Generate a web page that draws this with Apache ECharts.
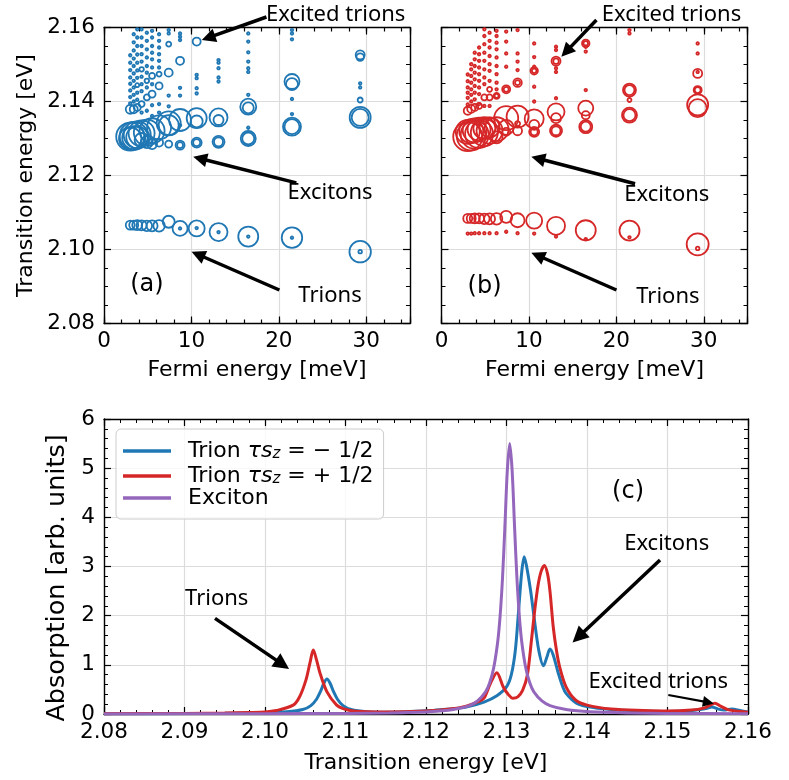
<!DOCTYPE html>
<html>
<head>
<meta charset="utf-8">
<script src="https://cdn.jsdelivr.net/npm/echarts@6.0.0/dist/echarts.min.js"></script>
<style>
  html, body { margin: 0; padding: 0; background: #fff; }
  #chart { width: 789px; height: 780px; }
</style>
</head>
<body>
<div id="chart"></div>
<script>
// --- data -----------------------------------------------------------------
// scatter points: [Fermi energy (meV), transition energy (eV), relative strength]
var trionsA = [[3.0,2.1066,.26],[3.4,2.1066,.26],[3.8,2.1066,.3],[4.3,2.1065,.3],[4.9,2.1064,.32],[5.5,2.1064,.34],[6.3,2.1064,.36],
  [7.4,2.1075,.38],[8.7,2.1057,.5],[10.6,2.1057,.54],[13.1,2.1047,.62],[16.5,2.1035,.7],[21.5,2.1032,.72],[29.3,2.0994,.76]];
var trionDotsA = [[8.7,2.1057],[10.6,2.1058],[13.1,2.1047],[16.5,2.1035],[21.5,2.1032],[29.3,2.0994,.04]];
var excitonsA = [[3.0,2.1305,1.02],[3.0,2.1300,.8],[3.4,2.1307,1.02],[3.4,2.1302,.82],[3.8,2.1310,.98],[3.8,2.1303,.78],
  [4.3,2.1314,.94],[4.3,2.1296,.46],[4.9,2.1316,.94],[4.9,2.1290,.38],[5.5,2.1321,.9],[5.5,2.1285,.3],
  [6.3,2.1330,.86],[6.3,2.1289,.22],[7.4,2.1341,.86],[7.4,2.1336,.7],[7.4,2.1285,.18],
  [8.7,2.1350,.78],[8.7,2.1282,.26],[8.7,2.1282,.14],[10.6,2.1355,.7],[10.6,2.1346,.38],[10.6,2.1289,.3],[10.6,2.1289,.18],
  [13.1,2.1357,.62],[13.1,2.1350,.3],[13.1,2.1291,.38],[13.1,2.1291,.26],[16.5,2.1386,.54],[16.5,2.1383,.34],[16.5,2.1300,.5],[16.5,2.1300,.38],
  [21.5,2.1332,.62],[21.5,2.1332,.5],[21.5,2.1454,.5],[21.5,2.1447,.38],
  [29.3,2.1357,.74],[29.3,2.1357,.58],[29.3,2.1526,.26],[29.3,2.1520,.2],[29.3,2.1404,.1]];
var excitedA = [[3.0,2.1379,.26],[3.4,2.1379,.22],[3.8,2.1384,.18],[4.3,2.1393,.14],[4.9,2.1411,.14],[5.5,2.1420,.18],[6.3,2.1442,.18],
  [7.4,2.1478,.22],[8.7,2.1510,.22],[10.6,2.1562,.22],[5.5,2.1469,.14],[6.3,2.1474,.1],[7.4,2.1555,.1],[4.3,2.1487,.08],[4.9,2.1456,.08],[3.8,2.1444,.06]];
var dotsA = [[3.0,2.1395],[3.0,2.1412],[3.0,2.1430],[3.0,2.1448],[3.0,2.1465],[3.0,2.1485],[3.0,2.1505],[3.0,2.1525],
  [3.4,2.1400],[3.4,2.1418],[3.4,2.1438],[3.4,2.1456],[3.4,2.1476],[3.4,2.1496],[3.4,2.1516],[3.4,2.1538],[3.4,2.1560],[3.4,2.1582],
  [3.8,2.1405],[3.8,2.1424],[3.8,2.1464],[3.8,2.1484],[3.8,2.1505],[3.8,2.1527],[3.8,2.1550],[3.8,2.1573],[3.8,2.1595],
  [4.3,2.1370],[4.3,2.1428],[4.3,2.1447],[4.3,2.1467],[4.3,2.1508],[4.3,2.1528],[4.3,2.1550],[4.3,2.1573],[4.3,2.1595],
  [4.9,2.1375],[4.9,2.1438],[4.9,2.1478],[4.9,2.1496],[4.9,2.1519],[4.9,2.1541],[4.9,2.1564],[4.9,2.1586],
  [5.5,2.1361],[5.5,2.1390],[5.5,2.1447],[5.5,2.1492],[5.5,2.1514],[5.5,2.1532],[5.5,2.1550],[5.5,2.1573],[5.5,2.1591],
  [6.3,2.1370],[6.3,2.1393],[6.3,2.1492],[6.3,2.1510],[6.3,2.1528],[6.3,2.1546],[6.3,2.1564],[6.3,2.1582],
  [7.4,2.1387],[7.4,2.1416],[7.4,2.1584],[7.4,2.1593],[8.7,2.1336],[8.7,2.1416],[8.7,2.1437],[8.7,2.1566],[8.7,2.1575],[8.7,2.1584],
  [10.6,2.1422],[10.6,2.1436],[10.6,2.1463],[10.6,2.1472],[13.1,2.1454],[13.1,2.1465],[13.1,2.1490],[13.1,2.1505],[13.1,2.1512],
  [16.5,2.1329],[16.5,2.1418],[16.5,2.1480],[16.5,2.1490],[16.5,2.1508],[16.5,2.1533],[16.5,2.1562],[16.5,2.1584],
  [21.5,2.1366],[21.5,2.1407],[21.5,2.1568],[21.5,2.1584],[21.5,2.1593],[29.3,2.1438],[29.3,2.1449]];

var trionsB = [[3.0,2.1084,.26],[3.4,2.1084,.26],[3.8,2.1084,.3],[4.3,2.1084,.3],[4.9,2.1083,.32],[5.5,2.1083,.34],[6.3,2.1083,.36],
  [7.4,2.1088,.38],[8.7,2.1079,.46],[10.6,2.1078,.54],[13.1,2.1064,.62],[16.5,2.1052,.7],[21.5,2.1051,.7],[29.3,2.1014,.78]];
var trionDotsB = [[3.0,2.1043],[3.4,2.1043],[3.8,2.1044],[4.3,2.1044],[4.9,2.1044],[5.5,2.1044],[6.3,2.1044],[7.4,2.1048],
  [8.7,2.1044],[10.6,2.1043],[13.1,2.1035],[16.5,2.1028],[21.5,2.1033],[29.3,2.1003,.04]];
var excitonsB = [[3.0,2.1305,1.06],[3.0,2.1318,.86],[3.4,2.1307,1.06],[3.4,2.1320,.86],[3.8,2.1310,1.02],[3.8,2.1322,.86],
  [4.3,2.1312,1.02],[4.3,2.1325,.82],[4.9,2.1316,.98],[4.9,2.1328,.78],[5.5,2.1321,.94],[5.5,2.1330,.7],
  [6.3,2.1325,.86],[6.3,2.1303,.38],[7.4,2.1355,.86],[7.4,2.1330,.5],[7.4,2.1318,.22],
  [8.7,2.1359,.78],[8.7,2.1321,.26],[8.7,2.1340,.1],[10.6,2.1353,.66],[10.6,2.1337,.3],[10.6,2.1318,.3],[10.6,2.1318,.18],
  [13.1,2.1372,.58],[13.1,2.1355,.3],[13.1,2.1321,.38],[13.1,2.1321,.26],[16.5,2.1382,.5],[16.5,2.1363,.22],[16.5,2.1332,.42],[16.5,2.1332,.3],
  [21.5,2.1431,.42],[21.5,2.1431,.3],[21.5,2.1363,.5],[21.5,2.1363,.38],[21.5,2.1404,.06],
  [29.3,2.1391,.74],[29.3,2.1382,.62],[29.3,2.1431,.22],[29.3,2.1431,.14],[29.3,2.1476,.26]];
var excitedB = [[3.0,2.1375,.22],[3.4,2.1380,.22],[3.8,2.1384,.18],[4.3,2.1388,.14],[4.9,2.1411,.14],[5.5,2.1411,.14],[5.5,2.1433,.1],
  [6.3,2.1415,.14],[7.4,2.1433,.22],[8.7,2.1451,.24],[10.6,2.1483,.2],[13.1,2.1509,.26],[16.5,2.1557,.2],
  [6.3,2.1415,.06],[7.4,2.1433,.1],[8.7,2.1451,.1],[10.6,2.1483,.08],[13.1,2.1509,.12],[16.5,2.1557,.08]];
var dotsB = [[3.0,2.1392],[3.0,2.1410],[3.0,2.1424],[3.0,2.1438],[3.0,2.1455],[3.0,2.1473],
  [3.4,2.1400],[3.4,2.1418],[3.4,2.1433],[3.4,2.1451],[3.4,2.1469],[3.4,2.1487],[3.4,2.1501],
  [3.8,2.1406],[3.8,2.1424],[3.8,2.1442],[3.8,2.1460],[3.8,2.1478],[3.8,2.1496],[3.8,2.1514],[3.8,2.1532],
  [4.3,2.1393],[4.3,2.1420],[4.3,2.1438],[4.3,2.1456],[4.3,2.1474],[4.3,2.1492],[4.3,2.1510],[4.3,2.1528],[4.3,2.1546],
  [4.9,2.1388],[4.9,2.1447],[4.9,2.1465],[4.9,2.1487],[4.9,2.1510],[4.9,2.1532],[4.9,2.1555],[4.9,2.1577],[4.9,2.1595],
  [5.5,2.1388],[5.5,2.1456],[5.5,2.1483],[5.5,2.1501],[5.5,2.1523],[5.5,2.1546],[5.5,2.1564],[5.5,2.1586],
  [6.3,2.1433],[6.3,2.1451],[6.3,2.1474],[6.3,2.1496],[6.3,2.1519],[6.3,2.1541],[6.3,2.1559],[6.3,2.1577],[6.3,2.1591],
  [7.4,2.1494],[7.4,2.1530],[7.4,2.1562],[7.4,2.1589],[8.7,2.1485],[8.7,2.1508],[8.7,2.1530],[8.7,2.1593],
  [10.6,2.1400],[10.6,2.1440],[10.6,2.1494],[10.6,2.1520],[10.6,2.1557],[13.1,2.1409],[13.1,2.1480],[13.1,2.1490],[13.1,2.1539],[13.1,2.1548],
  [16.5,2.1431],[16.5,2.1535],[16.5,2.1548],[21.5,2.1584],[21.5,2.1593],[29.3,2.1480],[29.3,2.1530],[29.3,2.1557]];

// absorption spectra: [transition energy (eV), absorption (arb. units)]
var trionMinus = [[2.080,0.005],[2.090,0.01],[2.095,0.015],[2.100,0.025],[2.1027,0.045],[2.1047,0.09],[2.1057,0.17],[2.1064,0.3],
  [2.1069,0.46],[2.1073,0.62],[2.1077,0.71],[2.1081,0.62],[2.1085,0.46],[2.1090,0.3],[2.1097,0.17],[2.1107,0.09],[2.1127,0.045],
  [2.115,0.035],[2.118,0.05],[2.121,0.075],[2.123,0.1],[2.125,0.14],[2.1272,0.24],[2.1288,0.37],[2.1300,0.55],[2.1306,0.8],
  [2.1311,1.3],[2.1315,2.1],[2.1319,2.9],[2.1322,3.2],[2.1325,3.0],[2.1330,2.5],[2.1334,2.0],[2.1340,1.3],[2.1346,0.98],
  [2.1350,1.15],[2.1354,1.32],[2.1358,1.2],[2.1364,0.85],[2.1370,0.55],[2.1374,0.42],[2.1386,0.23],[2.1400,0.15],[2.1430,0.09],
  [2.1470,0.06],[2.1500,0.05],[2.1530,0.07],[2.1548,0.11],[2.1555,0.14],[2.1563,0.1],[2.1570,0.08],[2.1580,0.1],[2.1590,0.07],[2.1600,0.04]];
var trionPlus = [[2.080,0.005],[2.090,0.012],[2.095,0.02],[2.098,0.03],[2.1000,0.04],[2.1014,0.07],[2.1035,0.18],[2.1043,0.35],
  [2.1051,0.7],[2.1056,1.05],[2.1060,1.3],[2.1064,1.1],[2.1068,0.85],[2.1077,0.45],[2.1089,0.18],[2.1097,0.11],[2.1110,0.06],
  [2.1150,0.04],[2.1200,0.06],[2.1230,0.1],[2.1250,0.16],[2.1265,0.25],[2.1272,0.32],[2.1280,0.62],[2.1288,0.84],[2.1296,0.55],
  [2.1302,0.4],[2.1308,0.32],[2.1314,0.35],[2.1320,0.48],[2.1326,0.8],[2.1331,1.5],[2.1335,2.1],[2.1339,2.6],[2.1343,2.9],
  [2.1347,3.02],[2.1351,2.85],[2.1354,2.5],[2.1358,1.78],[2.1362,1.3],[2.1366,0.96],[2.1374,0.55],[2.1386,0.28],[2.1400,0.18],
  [2.1430,0.1],[2.1470,0.07],[2.1500,0.06],[2.1530,0.08],[2.1545,0.12],[2.1552,0.17],[2.1559,0.22],[2.1566,0.16],[2.1575,0.09],
  [2.1590,0.05],[2.1600,0.035]];
var exciton = [[2.080,0.002],[2.100,0.006],[2.110,0.012],[2.1154,0.02],[2.1204,0.044],[2.1234,0.09],[2.1254,0.17],[2.1264,0.265],
  [2.1274,0.45],[2.1279,0.63],[2.1284,0.93],[2.1289,1.46],[2.1292,1.98],[2.1295,2.75],[2.1298,3.81],[2.1301,4.95],[2.1304,5.5],
  [2.1307,4.95],[2.1310,3.81],[2.1313,2.75],[2.1316,1.98],[2.1319,1.46],[2.1324,0.93],[2.1329,0.63],[2.1334,0.45],[2.1344,0.265],
  [2.1354,0.17],[2.1374,0.09],[2.1404,0.044],[2.1454,0.02],[2.150,0.012],[2.160,0.006]];

var seriesNames = ['Trion minus', 'Trion plus', 'Exciton'];

// annotations, in data coordinates of each panel: arrows [x0, y0, x1, y1] (x1,y1 = head centre), labels [text, x, y]
var arrowsA = [[18.58,2.16284,11.94,2.15724],[22.0,2.1180,10.98,2.1246],[20.06,2.08905,10.75,2.09865]];
var labelsA = [['Excited trions',26.5,2.16338],['Excitons',25.85,2.11527],['Trions',25.85,2.08743],['(a)',4.91,2.0904]];
var arrowsB = [[17.72,2.16203,14.26,2.15349],[22.14,2.11778,11.05,2.1246],[20.01,2.08905,11.01,2.09838]];
var labelsB = [['Excited trions',26.31,2.16338],['Excitons',25.77,2.11473],['Trions',25.89,2.08724],['(b)',4.93,2.08995]];
var arrowsC = [[2.09379,1.946,2.10217,1.009],[2.14907,3.132,2.13893,1.568]];
var arrowsC2 = [[2.1501,0.386,2.15508,0.236]];
var labelsC = [['Trions',2.094,2.353],['Excitons',2.1499,3.472],['Excited trions',2.14886,0.657],['(c)',2.1451,4.515]];

// --- chart -------------------------------------------------------------------
var FONT = 'DejaVu Sans';
var BLUE = '#1f77b4', RED = '#d62728', PURPLE = '#9467bd';

function valAxis(o) {
  return {
    type: 'value', gridIndex: o.grid, position: o.pos,
    min: o.min, max: o.max, interval: o.interval,
    name: o.name || '', nameLocation: 'middle', nameGap: o.nameGap || 0, nameRotate: o.nameRotate,
    nameTextStyle: Object.assign({ fontFamily: FONT, fontSize: 22, color: '#000' }, o.nameStyle || {}),
    axisLine: { show: o.line !== false, onZero: false, lineStyle: { color: '#000', width: 1.4 } },
    axisTick: { show: true, inside: true, length: o.tickLen || 7, lineStyle: { color: '#000', width: 1.2 } },
    minorTick: { show: !!o.minor, splitNumber: o.minor || 5, length: 4, lineStyle: { color: '#000', width: 1 } },
    axisLabel: { show: !!o.labels, margin: o.margin || 8, fontFamily: FONT, fontSize: 21.5, color: '#000', formatter: o.fmt },
    splitLine: { show: !!o.split, lineStyle: { color: '#dcdcdc', width: 1.2 } },
    minorSplitLine: { show: false }
  };
}

function fermiAxes(grid) {
  var tens = function (v) { return v % 10 === 0 ? String(v) : ''; };
  return [
    valAxis({ grid: grid, pos: 'bottom', min: 0, max: 35, interval: 10, labels: true, split: true, fmt: tens, margin: 7,
      name: 'Fermi energy [meV]', nameGap: 36 }),
    valAxis({ grid: grid, pos: 'bottom', min: 0, max: 35, interval: 2, tickLen: 4, line: false }),
    valAxis({ grid: grid, pos: 'top', min: 0, max: 35, interval: 10 }),
    valAxis({ grid: grid, pos: 'top', min: 0, max: 35, interval: 2, tickLen: 4, line: false })
  ];
}

function energyAxes(grid, labels) {
  var o = { grid: grid, pos: 'left', min: 2.08, max: 2.16, interval: 0.02, minor: 4, split: true, labels: labels, margin: 9,
    fmt: function (v) { return v.toFixed(2); } };
  if (labels) { o.name = 'Transition energy [eV]'; o.nameGap = 67; o.nameRotate = 90; }
  return [valAxis(o), valAxis({ grid: grid, pos: 'right', min: 2.08, max: 2.16, interval: 0.02, minor: 4 })];
}

function scatter(xi, yi, data, color) {
  return {
    type: 'scatter', xAxisIndex: xi, yAxisIndex: yi, data: data, silent: true, clip: true, z: 3,
    symbolSize: function (d) { return 2.5 + 25 * (d[2] || 0); },
    itemStyle: { color: 'rgba(255,255,255,0)', borderColor: color, borderWidth: 1.8, opacity: 1 }
  };
}

function spectrum(name, data, color) {
  return {
    type: 'line', name: name, xAxisIndex: 8, yAxisIndex: 4, data: data, symbol: 'none', showSymbol: false,
    smooth: 0.3, silent: true, z: 4, lineStyle: { color: color, width: 3 }, itemStyle: { color: color }
  };
}

var chart = echarts.init(document.getElementById('chart'), null, { renderer: 'canvas' });

var xAxes = fermiAxes(0).concat(fermiAxes(1)).concat([
  valAxis({ grid: 2, pos: 'bottom', min: 2.08, max: 2.16, interval: 0.01, minor: 5, labels: true, split: true, margin: 7,
    fmt: function (v) { return v.toFixed(2); }, name: 'Transition energy [eV]', nameGap: 38 }),
  valAxis({ grid: 2, pos: 'top', min: 2.08, max: 2.16, interval: 0.01, minor: 5 })
]);
var yAxes = energyAxes(0, true).concat(energyAxes(1, false)).concat([
  valAxis({ grid: 2, pos: 'left', min: 0, max: 6, interval: 1, minor: 5, labels: true, split: true, margin: 9,
    name: 'Absorption [arb. units]', nameGap: 24, nameRotate: 90, nameStyle: { fontSize: 25.5, padding: [0, 23, 0, 0] } }),
  valAxis({ grid: 2, pos: 'right', min: 0, max: 6, interval: 1, minor: 5 })
]);

chart.setOption({
  animation: false,
  backgroundColor: '#fff',
  textStyle: { fontFamily: FONT },
  grid: [
    { left: 104, top: 27.5, width: 306, height: 296, outerBoundsMode: 'none' },
    { left: 441.5, top: 27.5, width: 306, height: 296, outerBoundsMode: 'none' },
    { left: 104, top: 419, width: 644, height: 295, outerBoundsMode: 'none' }
  ],
  xAxis: xAxes,
  yAxis: yAxes,
  legend: {
    orient: 'vertical', left: 116, top: 429, padding: [8, 10, 10, 7],
    itemWidth: 48, itemHeight: 3.3, itemGap: 0, selectedMode: false, icon: 'rect',
    backgroundColor: 'rgba(255,255,255,0.8)', borderColor: '#cccccc', borderWidth: 1, borderRadius: 5,
    data: seriesNames,
    formatter: function (name) {
      if (name === 'Exciton') return '{sp|}{n|Exciton}';
      var sign = name === 'Trion minus' ? '\u2212' : '+';
      return '{sp|}{n|Trion }{it|\u03c4s}{sub|z}{n| = ' + sign + ' 1/2}';
    },
    textStyle: {
      color: '#000',
      rich: {
        sp: { width: 12 },
        n: { fontFamily: FONT, fontSize: 22, lineHeight: 22, color: '#000' },
        it: { fontFamily: FONT, fontStyle: 'italic', fontSize: 22, lineHeight: 22, color: '#000' },
        sub: { fontFamily: FONT, fontStyle: 'italic', fontSize: 15, lineHeight: 12, verticalAlign: 'bottom', padding: [10, 0, 0, 0], color: '#000' }
      }
    }
  },
  series: [
    scatter(0, 0, excitonsA, BLUE), scatter(0, 0, excitedA, BLUE), scatter(0, 0, dotsA, BLUE),
    scatter(0, 0, trionsA, BLUE), scatter(0, 0, trionDotsA, BLUE),
    scatter(4, 2, excitonsB, RED), scatter(4, 2, excitedB, RED), scatter(4, 2, dotsB, RED),
    scatter(4, 2, trionsB, RED), scatter(4, 2, trionDotsB, RED),
    spectrum(seriesNames[0], trionMinus, BLUE),
    spectrum(seriesNames[1], trionPlus, RED),
    spectrum(seriesNames[2], exciton, PURPLE)
  ]
});

// annotations: arrows and texts placed through each panel's axes
function annotate(xi, yi, arrows, labels, head, width, out) {
  var finder = { xAxisIndex: xi, yAxisIndex: yi };
  arrows.forEach(function (a) {
    var p0 = chart.convertToPixel(finder, [a[0], a[1]]);
    var p1 = chart.convertToPixel(finder, [a[2], a[3]]);
    var dx = p1[0] - p0[0], dy = p1[1] - p0[1], len = Math.sqrt(dx * dx + dy * dy);
    var ux = dx / len, uy = dy / len, hw = head * 0.5;
    var tip = [p1[0] + ux * head / 2, p1[1] + uy * head / 2];
    var base = [p1[0] - ux * head / 2, p1[1] - uy * head / 2];
    out.push({ type: 'line', silent: true, z: 100,
      shape: { x1: p0[0], y1: p0[1], x2: p1[0], y2: p1[1] }, style: { stroke: '#000', lineWidth: width } });
    out.push({ type: 'polygon', silent: true, z: 100,
      shape: { points: [tip, [base[0] - uy * hw, base[1] + ux * hw], [base[0] + uy * hw, base[1] - ux * hw]] },
      style: { fill: '#000' } });
  });
  labels.forEach(function (t) {
    var p = chart.convertToPixel(finder, [t[1], t[2]]);
    var tag = t[0].charAt(0) === '(';
    out.push({ type: 'text', silent: true, z: 100, x: p[0], y: p[1],
      style: { text: t[0], fill: '#000', fontSize: tag ? 24 : 22, fontFamily: tag ? FONT : 'Noto Sans',
        align: 'center', verticalAlign: 'middle' } });
  });
}

var notes = [];
annotate(0, 0, arrowsA, labelsA, 14, 3.5, notes);
annotate(4, 2, arrowsB, labelsB, 14, 3.5, notes);
annotate(8, 4, arrowsC, labelsC, 16, 3.5, notes);
annotate(8, 4, arrowsC2, [], 11, 2.2, notes);
chart.setOption({ graphic: notes });

window.addEventListener('resize', function () { chart.resize(); });
</script>
</body>
</html>
